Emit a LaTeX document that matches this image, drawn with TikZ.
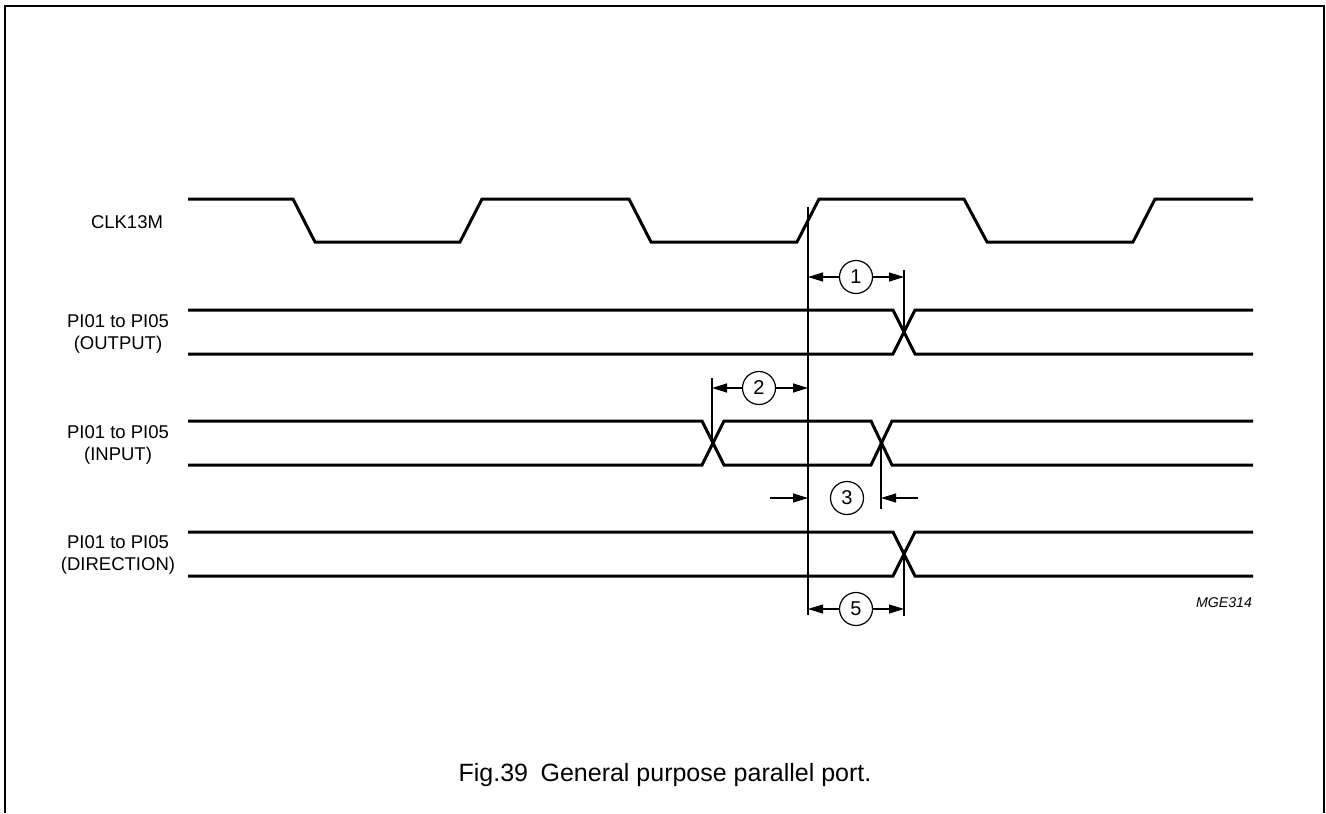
\documentclass[tikz,border=0pt]{standalone}
\usepackage{fontspec}
\setmainfont{Liberation Sans}
\usetikzlibrary{arrows.meta}
\begin{document}
\begin{tikzpicture}[x=0.5pt,y=-0.5pt,
  wave/.style={line width=1.5pt, line join=miter},
  thinline/.style={line width=0.6pt},
  arr/.style={thinline, -{Triangle[length=7.5pt,width=4.5pt]}},
  num/.style={circle, draw, thinline, minimum size=16.5pt, inner sep=0pt, font=\fontsize{10}{12}\selectfont},
  lbl/.style={align=center, inner sep=0pt, font=\fontsize{9.25}{11}\selectfont}]
\useasboundingbox (0,0) rectangle (1326,813);
% frame
\draw[line width=1pt] (5,813) -- (5,6) -- (1324,6) -- (1324,813);

% labels
\node[lbl] (lclk) at (127,222) {CLK13M};
\node[lbl] (lout) at (118,334) {PI01 to PI05\\(OUTPUT)};
\node[lbl] (lin) at (118,445) {PI01 to PI05\\(INPUT)};
\node[lbl] (ldir) at (118,555) {PI01 to PI05\\(DIRECTION)};

% CLK13M
\draw[wave] (188,199) -- (293,199) -- (315,242) -- (460,242) -- (482,199) -- (629,199) -- (651,242) -- (797,242) -- (819,199) -- (964,199) -- (987,242) -- (1133,242) -- (1155,199) -- (1253,199);

% OUTPUT
\draw[wave] (188,310) -- (893,310) -- (915,354) -- (1253,354);
\draw[wave] (188,354) -- (893,354) -- (915,310) -- (1253,310);

% INPUT
\draw[wave] (188,421) -- (702,421) -- (724,465) -- (871,465) -- (892,421) -- (1253,421);
\draw[wave] (188,465) -- (702,465) -- (724,421) -- (871,421) -- (892,465) -- (1253,465);

% DIRECTION
\draw[wave] (188,532) -- (893,532) -- (915,576) -- (1253,576);
\draw[wave] (188,576) -- (893,576) -- (915,532) -- (1253,532);

% reference line and markers
\coordinate (reftop) at (808,207);
\coordinate (refbot) at (808,615);
\draw[thinline] (reftop) -- (refbot);
\coordinate (m1t) at (904,270); \coordinate (m1b) at (904,332);
\draw[thinline] (m1t) -- (m1b);
\coordinate (m2t) at (712,378); \coordinate (m2b) at (712,443);
\draw[thinline] (m2t) -- (m2b);
\coordinate (m3t) at (881,443); \coordinate (m3b) at (881,509);
\draw[thinline] (m3t) -- (m3b);
\coordinate (m5t) at (904,554); \coordinate (m5b) at (904,616);
\draw[thinline] (m5t) -- (m5b);

% annotation 1
\node[num] (c1) at (856,277) {1};
\coordinate (a1l) at (808,277); \coordinate (a1r) at (904,277);
\draw[arr] (c1) -- (a1l);
\draw[arr] (c1) -- (a1r);

% annotation 2
\node[num] (c2) at (759,388) {2};
\coordinate (a2l) at (712,388); \coordinate (a2r) at (808,388);
\draw[arr] (c2) -- (a2l);
\draw[arr] (c2) -- (a2r);

% annotation 3
\node[num] (c3) at (847,498) {3};
\coordinate (a3s) at (770,498); \coordinate (a3l) at (808,498);
\coordinate (a3t) at (918,498); \coordinate (a3r) at (881,498);
\draw[arr] (a3s) -- (a3l);
\draw[arr] (a3t) -- (a3r);

% annotation 5
\node[num] (c5) at (856,609) {5};
\coordinate (a5l) at (808,609); \coordinate (a5r) at (904,609);
\draw[arr] (c5) -- (a5l);
\draw[arr] (c5) -- (a5r);

% reference code and caption
\node[inner sep=0pt, font=\fontsize{7.1}{8}\selectfont\itshape] (code) at (1224,603) {MGE314};
\node[inner sep=0pt, font=\fontsize{12.5}{15}\selectfont] (cap) at (665,775) {Fig.39\hspace{0.5em}General purpose parallel port.};
\end{tikzpicture}
\end{document}
